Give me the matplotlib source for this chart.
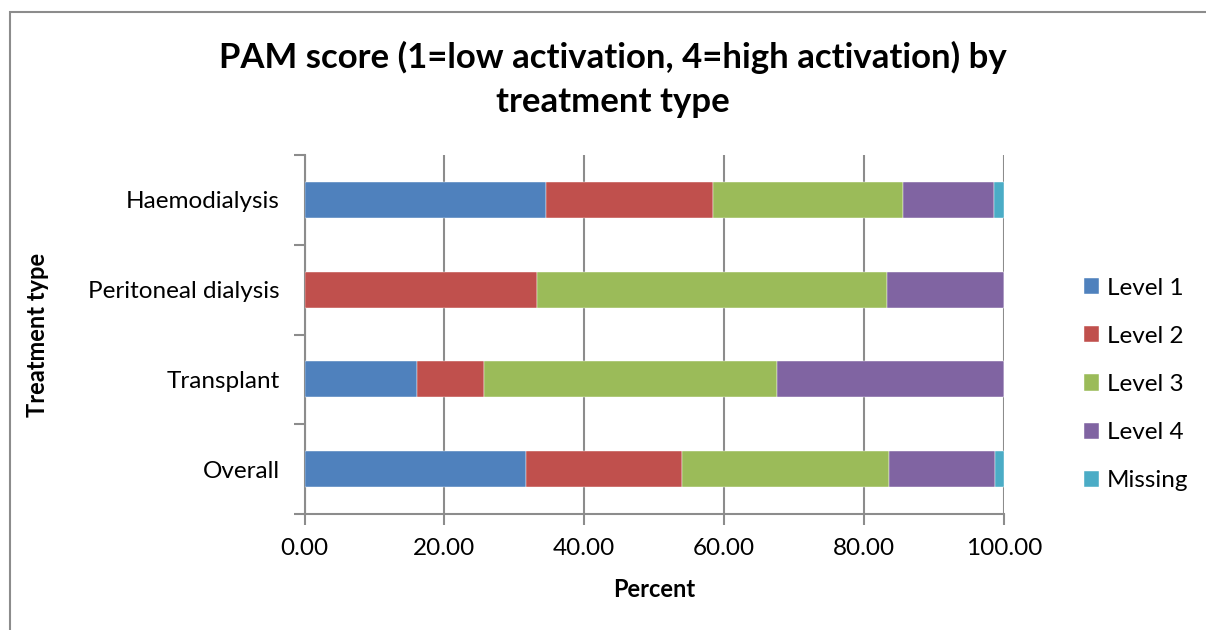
import matplotlib.pyplot as plt
from matplotlib.patches import Rectangle
import numpy as np

plt.rcParams['font.family'] = ['Lato', 'DejaVu Sans']

categories = ['Haemodialysis', 'Peritoneal dialysis', 'Transplant', 'Overall']
series = ['Level 1', 'Level 2', 'Level 3', 'Level 4', 'Missing']

level1 = [34.5, 0.0, 16.1, 31.6]
level2 = [23.9, 33.3, 9.6, 22.4]
level3 = [27.2, 50.0, 41.9, 29.5]
level4 = [12.9, 16.7, 32.4, 15.2]
missing = [1.5, 0.0, 0.0, 1.3]

colors = ['#4F81BD', '#C0504D', '#9BBB59', '#8064A2', '#4BACC6']
grid_col = '#8c8c8c'

fig = plt.figure(figsize=(12.06, 6.3), dpi=100)
ax = fig.add_axes([0.2525, 0.184, 0.58, 0.570])

# outer chart frame
fig.patches.append(Rectangle((10 / 1206, -0.05), 1.2, 1 - 12 / 630 + 0.05,
                             transform=fig.transFigure, fill=False,
                             edgecolor='#8c8c8c', linewidth=1.5))

y = np.arange(len(categories))
left = np.zeros(len(categories))
for name, vals, c in zip(series, [level1, level2, level3, level4, missing], colors):
    ax.barh(y, vals, left=left, height=0.4, color=c, label=name,
            edgecolor='white', linewidth=0.3, zorder=3)
    left += np.array(vals)

ax.set_xlim(0, 100)
ax.set_ylim(3.5, -0.5)
ax.set_xticks(np.arange(0, 101, 20))
ax.set_xticklabels([f'{v:.2f}' for v in np.arange(0, 101, 20)], fontsize=17.5)
ax.set_yticks(y)
ax.set_yticklabels(categories, fontsize=17.5)
ax.set_yticks(np.arange(-0.5, 4, 1), minor=True)
ax.tick_params(axis='y', which='major', length=0, pad=18)
ax.tick_params(axis='y', which='minor', length=8, width=1.5, color=grid_col)
ax.tick_params(axis='x', length=8, width=1.5, color=grid_col, pad=9)

ax.xaxis.grid(True, color=grid_col, linewidth=1.5, zorder=0)
ax.set_axisbelow(True)
for s in ['top', 'right']:
    ax.spines[s].set_visible(False)
for s in ['left', 'bottom']:
    ax.spines[s].set_color(grid_col)
    ax.spines[s].set_linewidth(1.5)

ax.set_xlabel('Percent', fontsize=17, fontweight='bold', labelpad=14)
ax.set_ylabel('Treatment type', fontsize=17, fontweight='bold')
ax.yaxis.set_label_coords(-0.365, 0.5)

fig.suptitle('PAM score (1=low activation, 4=high activation) by\ntreatment type',
             fontsize=25, fontweight='bold', x=0.508, y=0.935, linespacing=1.45)

ax.legend(loc='center left', bbox_to_anchor=(1.1, 0.361), frameon=False,
          fontsize=17.5, handlelength=0.65, handleheight=0.65,
          labelspacing=1.12, handletextpad=0.3, borderaxespad=0)

fig.savefig('out.png', dpi=100)
